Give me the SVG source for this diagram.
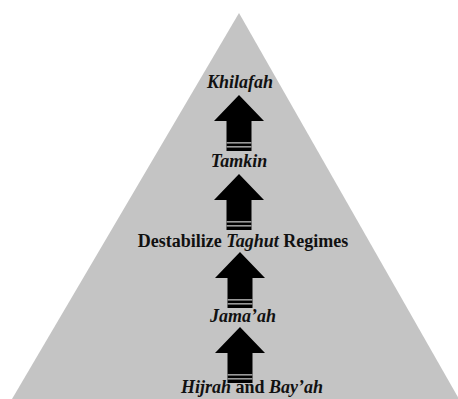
<svg xmlns="http://www.w3.org/2000/svg" xmlns:xlink="http://www.w3.org/1999/xlink" width="458" height="399" viewBox="0 0 458 399">
  <style>
    text { font-family: 'Liberation Serif', 'Times New Roman', Times, serif; font-size: 18px; font-weight: bold; fill: #111; text-anchor: middle; }
    .it { font-style: italic; }
  </style>
  <defs>
    <g id="upArrow">
      <path d="M0,0 L25,26 L12.5,26 L12.5,56 L-12.5,56 L-12.5,26 L-25,26 Z" fill="#000"/>
      <rect x="-12.5" y="47" width="25" height="1.6" fill="#9a9a9a"/>
      <rect x="-12.5" y="51" width="25" height="1.6" fill="#9a9a9a"/>
    </g>
  </defs>
  <rect width="458" height="399" fill="#fff"/>
  <g id="pyramid">
    <polygon points="239,13 459,399 12,399" fill="#c4c4c4"/>
  </g>
  <g id="connectors">
    <use xlink:href="#upArrow" x="239" y="95"/>
    <use xlink:href="#upArrow" x="239" y="174"/>
    <use xlink:href="#upArrow" x="240" y="252"/>
    <use xlink:href="#upArrow" x="240" y="327"/>
  </g>
  <g id="khilafah"><text class="it" x="240" y="88" font-family="Liberation Serif, serif">Khilafah</text></g>
  <g id="tamkin"><text class="it" x="239" y="167" font-family="Liberation Serif, serif">Tamkin</text></g>
  <g id="destabilize"><text x="243" y="247" font-family="Liberation Serif, serif">Destabilize <tspan class="it">Taghut</tspan> Regimes</text></g>
  <g id="jamaah"><text class="it" x="243" y="322" font-family="Liberation Serif, serif">Jama’ah</text></g>
  <g id="hijrah"><text x="252" y="393" font-family="Liberation Serif, serif"><tspan class="it">Hijrah</tspan> and <tspan class="it">Bay’ah</tspan></text></g>
</svg>
